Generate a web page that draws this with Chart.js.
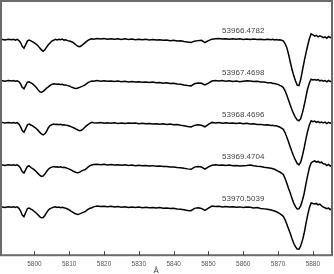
<!DOCTYPE html>
<html><head><meta charset="utf-8">
<script src="https://cdn.jsdelivr.net/npm/chart.js@4.4.0/dist/chart.umd.min.js"></script>
<style>html,body{margin:0;padding:0;background:#fff;}canvas{display:block;}</style>
</head><body>
<canvas id="c" width="334" height="274"></canvas>
<script>
// Wavelength grid (Å)
const wavelengths = [
 5790.5,5791.5,5792.5,5793.5,
 5794,5794.5,5795,5795.5,5796,5796.5,5797,5797.5,5798,5798.5,5799,5799.5,5800,5800.5,5801,5801.5,5802,5802.5,5803,5803.5,5804,5804.5,5805,5805.5,5806,5806.5,5807,5807.5,5808,5808.5,5809,5809.5,5810,5810.5,5811,5811.5,5812,5812.5,5813,5813.5,5814,5814.5,5815,5815.5,5816,5816.5,5817,
 5818,5819,5820,5821,5822,5823,5824,5825,5826,5827,5828,5829,5830,5831,5832,5833,5834,5835,5836,5837,5838,5839,5840,5841,5842,5843,5844,5845,5846,5847,5848,5849,5850,5851,5852,5853,5854,5855,5856,5857,5858,5859,5860,5861,5862,5863,5864,5865,5866,5867,5868,
 5868.5,5869,5869.5,5870,5870.5,5871,5871.5,5872,5872.5,5873,5873.5,5874,5874.5,5875,5875.5,5876,5876.5,5877,5877.5,5878,5878.5,5879,5879.5,5880,5880.5,5881,5881.5,5882,5882.5,5883,5883.5,5884,5884.5,5885,5885.5
];

const mjdLabels = ["53966.4782","53967.4698","53968.4696","53969.4704","53970.5039"];
const offsets = [0, -0.4, -0.8, -1.2, -1.6];
const xTicks = [5800,5810,5820,5830,5840,5850,5860,5870,5880];

// Normalized flux of each night
const flux1 = [
 1.003,0.996,1.004,0.998,
 1.002,0.995,1.003,0.993,0.972,0.935,0.918,0.952,0.988,0.996,0.988,0.979,0.968,0.956,0.942,0.921,0.902,0.889,0.903,0.928,0.951,0.968,0.986,0.993,1.002,0.996,1.003,0.998,1.004,0.995,0.998,0.990,0.987,0.981,0.975,0.962,0.948,0.936,0.932,0.941,0.955,0.968,0.983,0.995,1.003,1.008,1.004,
 1.010,1.006,1.011,1.004,1.009,1.003,1.008,1.002,1.007,1.001,1.005,0.999,1.004,0.998,1.002,0.996,1.001,0.995,0.999,0.993,0.996,0.990,0.993,0.986,0.988,0.982,0.977,0.973,0.985,0.990,0.993,0.972,0.990,1.004,1.008,1.010,1.005,1.009,1.004,1.008,1.003,1.007,1.002,1.006,1.001,1.005,1.000,1.004,0.999,1.003,0.998,
 1.002,0.997,1.001,0.996,0.999,0.994,0.988,0.962,0.925,0.862,0.788,0.716,0.656,0.606,0.565,0.560,0.618,0.704,0.789,0.868,0.941,1.008,1.055,1.046,1.034,1.041,1.026,1.036,1.029,1.018,1.026,1.012,1.030,1.019,1.026
];
const flux2 = [
 1.009,1.003,1.010,1.004,
 1.008,1.002,1.007,0.998,0.978,0.945,0.930,0.962,0.993,0.997,0.986,0.976,0.962,0.945,0.922,0.903,0.896,0.905,0.919,0.936,0.948,0.962,0.972,0.978,0.976,0.973,0.976,0.970,0.972,0.966,0.967,0.960,0.957,0.948,0.942,0.936,0.933,0.937,0.944,0.951,0.958,0.966,0.980,0.992,0.998,1.005,1.002,
 1.008,1.003,1.007,1.001,1.005,0.999,1.004,0.998,1.002,0.996,1.000,0.994,0.998,0.992,0.995,0.990,0.994,0.987,0.990,0.984,0.987,0.980,0.982,0.975,0.973,0.966,0.961,0.958,0.979,0.986,0.982,0.966,0.985,1.004,1.009,1.004,1.008,1.003,1.006,1.000,1.004,0.998,1.003,1.007,1.005,0.999,1.002,0.995,0.994,0.988,0.987,
 0.981,0.980,0.975,0.972,0.963,0.955,0.942,0.912,0.870,0.824,0.776,0.730,0.690,0.656,0.632,0.625,0.645,0.700,0.770,0.850,0.930,0.985,1.022,1.014,1.019,1.012,1.018,1.006,1.012,1.002,1.008,0.996,1.010,0.999,1.007
];
const flux3 = [
 1.010,1.004,1.009,1.003,
 1.008,1.002,1.007,0.995,0.968,0.930,0.915,0.950,0.985,0.993,0.984,0.976,0.963,0.951,0.935,0.916,0.899,0.889,0.900,0.924,0.958,0.978,0.986,0.993,0.988,0.992,0.986,0.990,0.984,0.987,0.983,0.979,0.975,0.969,0.962,0.953,0.944,0.936,0.930,0.933,0.946,0.963,0.978,0.990,1.002,1.009,1.005,
 1.004,1.008,1.002,1.006,1.000,1.005,0.999,1.004,0.998,1.003,1.000,1.004,0.997,1.001,0.995,0.999,0.993,0.997,0.991,0.995,0.990,0.993,0.986,0.989,0.982,0.977,0.970,0.966,0.980,0.986,0.981,0.967,0.990,1.009,1.004,1.008,1.002,1.006,1.000,1.004,0.999,1.003,0.997,1.001,0.994,0.995,0.989,0.990,0.985,0.986,0.980,
 0.981,0.976,0.977,0.970,0.965,0.955,0.943,0.912,0.870,0.825,0.775,0.728,0.685,0.648,0.617,0.603,0.628,0.690,0.765,0.850,0.925,0.985,1.024,1.016,1.022,1.010,1.017,1.006,1.013,1.003,1.011,0.998,1.010,1.002,1.008
];
const flux4 = [
 1.004,0.998,1.005,0.999,
 1.004,0.997,1.003,0.994,0.972,0.940,0.925,0.958,0.988,0.993,0.978,0.967,0.955,0.940,0.922,0.905,0.893,0.897,0.915,0.940,0.962,0.975,0.982,0.987,0.983,0.986,0.980,0.984,0.979,0.981,0.976,0.970,0.963,0.955,0.946,0.937,0.931,0.929,0.934,0.944,0.953,0.957,0.970,0.985,0.996,1.002,1.006,
 1.010,1.005,1.009,1.003,1.007,1.001,1.005,0.999,1.004,0.998,1.001,0.996,1.000,0.994,0.998,0.992,0.996,0.990,0.993,0.987,0.988,0.982,0.984,0.978,0.976,0.970,0.965,0.961,0.982,0.988,0.983,0.963,0.985,1.000,1.005,0.999,1.003,0.997,1.001,0.995,0.998,0.992,0.996,0.998,1.002,0.994,0.990,0.987,0.980,0.976,0.970,
 0.966,0.961,0.952,0.944,0.935,0.925,0.912,0.875,0.830,0.780,0.735,0.685,0.638,0.604,0.582,0.583,0.612,0.665,0.730,0.820,0.900,0.975,1.022,1.035,1.041,1.030,1.036,1.024,1.029,1.014,1.012,0.996,1.008,0.992,1.003
];
const flux5 = [
 1.003,0.997,1.004,0.998,
 1.003,0.996,1.002,0.990,0.965,0.925,0.909,0.948,0.986,0.991,0.980,0.971,0.958,0.943,0.926,0.909,0.898,0.900,0.920,0.948,0.972,0.985,0.993,0.999,1.002,0.996,1.001,0.995,0.999,0.993,0.990,0.982,0.973,0.961,0.951,0.941,0.933,0.930,0.935,0.942,0.950,0.955,0.968,0.980,0.989,0.994,1.002,
 1.010,1.005,1.009,1.003,1.007,1.000,1.005,0.999,1.003,0.997,1.001,0.996,1.000,0.994,0.999,0.993,0.997,0.991,0.995,0.989,0.992,0.986,0.988,0.982,0.979,0.974,0.968,0.966,0.988,0.993,0.987,0.968,0.990,1.010,1.005,1.009,1.002,1.006,1.000,1.004,0.998,1.002,0.997,1.001,0.999,0.992,0.995,0.986,0.983,0.979,0.972,
 0.968,0.962,0.956,0.947,0.938,0.926,0.912,0.880,0.838,0.793,0.750,0.700,0.655,0.622,0.600,0.598,0.628,0.682,0.750,0.840,0.920,0.995,1.040,1.034,1.029,1.035,1.022,1.028,1.013,1.000,0.994,0.985,0.990,0.977,0.985
];
const fluxes = [flux1, flux2, flux3, flux4, flux5];
fluxes.forEach((f,i)=>{ if (f.length !== wavelengths.length) console.error('length mismatch', i, f.length, wavelengths.length); });

const labelWavelength = 5860;
const labelLift = 0.08;
const axisTitle = "Å";
const axisTitleWavelength = 5835;

const datasets = fluxes.map((f, i) => ({
  label: mjdLabels[i],
  data: wavelengths.map((w, j) => ({x: w, y: f[j] + offsets[i]})),
  borderColor: '#000',
  borderWidth: 1.5,
  pointRadius: 0,
  tension: 0,
  fill: false
}));

const decor = {
  id: 'decor',
  afterDraw(chart) {
    const {ctx, chartArea: a, scales: {x, y}} = chart;
    ctx.save();
    // frame
    ctx.strokeStyle = '#6b6b6b';
    ctx.lineWidth = 2;
    ctx.strokeRect(a.left, a.top, a.right - a.left, a.bottom - a.top);
    // inward tick marks
    ctx.strokeStyle = '#444';
    ctx.lineWidth = 1;
    xTicks.forEach(v => {
      const px = Math.round(x.getPixelForValue(v)) + 0.5;
      ctx.beginPath();
      ctx.moveTo(px, a.bottom);
      ctx.lineTo(px, a.bottom - 4);
      ctx.stroke();
    });
    // spectrum labels
    ctx.fillStyle = '#444';
    ctx.font = '8px "Liberation Sans", Arial, sans-serif';
    ctx.textAlign = 'center';
    ctx.textBaseline = 'middle';
    mjdLabels.forEach((t, i) => {
      ctx.fillText(t, x.getPixelForValue(labelWavelength), y.getPixelForValue(1 + offsets[i] + labelLift));
    });
    // axis title
    ctx.font = '8px "Liberation Sans", Arial, sans-serif';
    ctx.fillText(axisTitle, x.getPixelForValue(axisTitleWavelength), a.bottom + 16);
    ctx.restore();
  }
};

new Chart(document.getElementById('c'), {
  type: 'line',
  data: { datasets },
  options: {
    responsive: false,
    devicePixelRatio: 1,
    animation: false,
    events: [],
    layout: { padding: { left: 1, right: 2, top: 1, bottom: 1 } },
    plugins: { legend: { display: false }, tooltip: { enabled: false } },
    scales: {
      x: {
        type: 'linear',
        min: 5790.4,
        max: 5885.5,
        afterBuildTicks: s => { s.ticks = xTicks.map(v => ({value: v})); },
        ticks: {
          color: '#555',
          font: { size: 6.5, family: '"Liberation Sans", Arial, sans-serif' },
          padding: 5,
          maxRotation: 0,
          autoSkip: false,
          callback: v => String(v)
        },
        grid: { display: false, drawTicks: false },
        border: { display: false }
      },
      y: {
        display: false,
        min: -1.0595,
        max: 1.3685
      }
    }
  },
  plugins: [decor]
});
</script>
</body></html>
